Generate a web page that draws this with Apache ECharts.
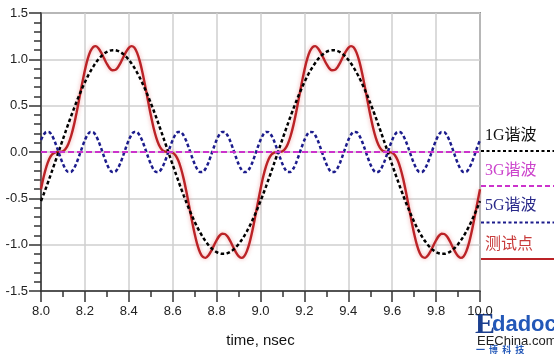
<!DOCTYPE html>
<html>
<head>
<meta charset="utf-8">
<script src="https://cdn.jsdelivr.net/npm/echarts@6/dist/echarts.min.js"></script>
<style>
html,body{margin:0;padding:0;background:#fff;}
#chart{width:554px;height:354px;}
</style>
</head>
<body>
<div id="chart"></div>
<script>
// time axis samples (ns)
var time = [
 8.0000,8.0125,8.0250,8.0375,8.0500,8.0625,8.0750,8.0875,8.1000,8.1125,8.1250,8.1375,8.1500,8.1625,8.1750,8.1875,
 8.2000,8.2125,8.2250,8.2375,8.2500,8.2625,8.2750,8.2875,8.3000,8.3125,8.3250,8.3375,8.3500,8.3625,8.3750,8.3875,
 8.4000,8.4125,8.4250,8.4375,8.4500,8.4625,8.4750,8.4875,8.5000,8.5125,8.5250,8.5375,8.5500,8.5625,8.5750,8.5875,
 8.6000,8.6125,8.6250,8.6375,8.6500,8.6625,8.6750,8.6875,8.7000,8.7125,8.7250,8.7375,8.7500,8.7625,8.7750,8.7875,
 8.8000,8.8125,8.8250,8.8375,8.8500,8.8625,8.8750,8.8875,8.9000,8.9125,8.9250,8.9375,8.9500,8.9625,8.9750,8.9875,
 9.0000,9.0125,9.0250,9.0375,9.0500,9.0625,9.0750,9.0875,9.1000,9.1125,9.1250,9.1375,9.1500,9.1625,9.1750,9.1875,
 9.2000,9.2125,9.2250,9.2375,9.2500,9.2625,9.2750,9.2875,9.3000,9.3125,9.3250,9.3375,9.3500,9.3625,9.3750,9.3875,
 9.4000,9.4125,9.4250,9.4375,9.4500,9.4625,9.4750,9.4875,9.5000,9.5125,9.5250,9.5375,9.5500,9.5625,9.5750,9.5875,
 9.6000,9.6125,9.6250,9.6375,9.6500,9.6625,9.6750,9.6875,9.7000,9.7125,9.7250,9.7375,9.7500,9.7625,9.7750,9.7875,
 9.8000,9.8125,9.8250,9.8375,9.8500,9.8625,9.8750,9.8875,9.9000,9.9125,9.9250,9.9375,9.9500,9.9625,9.9750,9.9875,
 10.0000];
// 1G harmonic (black dashed)
var wave1G = [
 -0.530,-0.453,-0.373,-0.290,-0.206,-0.121,-0.035,0.052,0.138,0.223,0.307,0.389,0.468,0.545,0.618,0.688,
 0.753,0.814,0.869,0.919,0.964,1.003,1.035,1.061,1.081,1.093,1.099,1.099,1.091,1.077,1.056,1.029,
 0.995,0.955,0.910,0.858,0.802,0.740,0.674,0.604,0.530,0.453,0.373,0.290,0.206,0.121,0.035,-0.052,
 -0.138,-0.223,-0.307,-0.389,-0.468,-0.545,-0.618,-0.688,-0.753,-0.814,-0.869,-0.919,-0.964,-1.003,-1.035,-1.061,
 -1.081,-1.093,-1.099,-1.099,-1.091,-1.077,-1.056,-1.029,-0.995,-0.955,-0.910,-0.858,-0.802,-0.740,-0.674,-0.604,
 -0.530,-0.453,-0.373,-0.290,-0.206,-0.121,-0.035,0.052,0.138,0.223,0.307,0.389,0.468,0.545,0.618,0.688,
 0.753,0.814,0.869,0.919,0.964,1.003,1.035,1.061,1.081,1.093,1.099,1.099,1.091,1.077,1.056,1.029,
 0.995,0.955,0.910,0.858,0.802,0.740,0.674,0.604,0.530,0.453,0.373,0.290,0.206,0.121,0.035,-0.052,
 -0.138,-0.223,-0.307,-0.389,-0.468,-0.545,-0.618,-0.688,-0.753,-0.814,-0.869,-0.919,-0.964,-1.003,-1.035,-1.061,
 -1.081,-1.093,-1.099,-1.099,-1.091,-1.077,-1.056,-1.029,-0.995,-0.955,-0.910,-0.858,-0.802,-0.740,-0.674,-0.604,
 -0.530];
// 3G harmonic (magenta dashed, flat at zero)
var wave3G = [
 0,0,0,0,0,0,0,0,0,0,0,0,0,0,0,0, 0,0,0,0,0,0,0,0,0,0,0,0,0,0,0,0,
 0,0,0,0,0,0,0,0,0,0,0,0,0,0,0,0, 0,0,0,0,0,0,0,0,0,0,0,0,0,0,0,0,
 0,0,0,0,0,0,0,0,0,0,0,0,0,0,0,0, 0,0,0,0,0,0,0,0,0,0,0,0,0,0,0,0,
 0,0,0,0,0,0,0,0,0,0,0,0,0,0,0,0, 0,0,0,0,0,0,0,0,0,0,0,0,0,0,0,0,
 0,0,0,0,0,0,0,0,0,0,0,0,0,0,0,0, 0,0,0,0,0,0,0,0,0,0,0,0,0,0,0,0,
 0];
// 5G harmonic (blue dashed)
var wave5G = [
 0.129,0.188,0.217,0.214,0.178,0.115,0.034,-0.051,-0.129,-0.188,-0.217,-0.214,-0.178,-0.115,-0.034,0.051,
 0.129,0.188,0.217,0.214,0.178,0.115,0.034,-0.051,-0.129,-0.188,-0.217,-0.214,-0.178,-0.115,-0.034,0.051,
 0.129,0.188,0.217,0.214,0.178,0.115,0.034,-0.051,-0.129,-0.188,-0.217,-0.214,-0.178,-0.115,-0.034,0.051,
 0.129,0.188,0.217,0.214,0.178,0.115,0.034,-0.051,-0.129,-0.188,-0.217,-0.214,-0.178,-0.115,-0.034,0.051,
 0.129,0.188,0.217,0.214,0.178,0.115,0.034,-0.051,-0.129,-0.188,-0.217,-0.214,-0.178,-0.115,-0.034,0.051,
 0.129,0.188,0.217,0.214,0.178,0.115,0.034,-0.051,-0.129,-0.188,-0.217,-0.214,-0.178,-0.115,-0.034,0.051,
 0.129,0.188,0.217,0.214,0.178,0.115,0.034,-0.051,-0.129,-0.188,-0.217,-0.214,-0.178,-0.115,-0.034,0.051,
 0.129,0.188,0.217,0.214,0.178,0.115,0.034,-0.051,-0.129,-0.188,-0.217,-0.214,-0.178,-0.115,-0.034,0.051,
 0.129,0.188,0.217,0.214,0.178,0.115,0.034,-0.051,-0.129,-0.188,-0.217,-0.214,-0.178,-0.115,-0.034,0.051,
 0.129,0.188,0.217,0.214,0.178,0.115,0.034,-0.051,-0.129,-0.188,-0.217,-0.214,-0.178,-0.115,-0.034,0.051,
 0.129];
// test point (red solid)
var testPoint = [
 -0.401,-0.265,-0.156,-0.076,-0.028,-0.006,-0.001,0.001,0.009,0.035,0.090,0.175,0.290,0.430,0.584,0.739,
 0.882,1.002,1.086,1.133,1.142,1.118,1.069,1.010,0.952,0.905,0.882,0.885,0.913,0.962,1.022,1.080,
 1.124,1.143,1.127,1.072,0.980,0.855,0.708,0.553,0.401,0.265,0.156,0.076,0.028,0.006,0.001,-0.001,
 -0.009,-0.035,-0.090,-0.175,-0.290,-0.430,-0.584,-0.739,-0.882,-1.002,-1.086,-1.133,-1.142,-1.118,-1.069,-1.010,
 -0.952,-0.905,-0.882,-0.885,-0.913,-0.962,-1.022,-1.080,-1.124,-1.143,-1.127,-1.072,-0.980,-0.855,-0.708,-0.553,
 -0.401,-0.265,-0.156,-0.076,-0.028,-0.006,-0.001,0.001,0.009,0.035,0.090,0.175,0.290,0.430,0.584,0.739,
 0.882,1.002,1.086,1.133,1.142,1.118,1.069,1.010,0.952,0.905,0.882,0.885,0.913,0.962,1.022,1.080,
 1.124,1.143,1.127,1.072,0.980,0.855,0.708,0.553,0.401,0.265,0.156,0.076,0.028,0.006,0.001,-0.001,
 -0.009,-0.035,-0.090,-0.175,-0.290,-0.430,-0.584,-0.739,-0.882,-1.002,-1.086,-1.133,-1.142,-1.118,-1.069,-1.010,
 -0.952,-0.905,-0.882,-0.885,-0.913,-0.962,-1.022,-1.080,-1.124,-1.143,-1.127,-1.072,-0.980,-0.855,-0.708,-0.553,
 -0.401];
var legendNames = ['1G谐波','3G谐波','5G谐波','测试点'];
var xTicks = {min: 8.0, max: 10.0, interval: 0.2};
var yTicks = {min: -1.5, max: 1.5, interval: 0.5};

function pairs(ys){ return time.map(function(t,i){ return [t, ys[i]]; }); }

var chart = echarts.init(document.getElementById('chart'), null, {renderer:'canvas'});
var axisFont = 'Liberation Sans, Arial, sans-serif';
var legFont = '"Liberation Serif","Noto Sans CJK SC",serif';
chart.setOption({
  backgroundColor:'#fff',
  animation:false,
  grid:{left:41, right:74, top:13, bottom:63, show:true, borderColor:'#444', borderWidth:1.5, backgroundColor:'transparent'},
  xAxis:{
    type:'value', min:xTicks.min, max:xTicks.max, interval:xTicks.interval,
    name:'time, nsec', nameLocation:'middle', nameGap:42,
    nameTextStyle:{fontSize:15, color:'#111', fontFamily:axisFont},
    axisLine:{onZero:false, lineStyle:{color:'#333', width:1.5}},
    axisTick:{length:11, lineStyle:{color:'#333', width:1.5}},
    minorTick:{show:true, splitNumber:2, length:6, lineStyle:{color:'#333', width:1.5}},
    axisLabel:{formatter:function(v){return v.toFixed(1);}, fontSize:13, color:'#222', margin:14, fontFamily:axisFont},
    splitLine:{show:true, lineStyle:{color:'#cfcfcf', width:1.5}}
  },
  yAxis:{
    type:'value', min:yTicks.min, max:yTicks.max, interval:yTicks.interval,
    axisLine:{show:true, onZero:false, lineStyle:{color:'#333', width:1.5}},
    axisTick:{show:true, length:12, lineStyle:{color:'#333', width:1.5}},
    minorTick:{show:true, splitNumber:5, length:7, lineStyle:{color:'#333', width:1.5}},
    axisLabel:{formatter:function(v){return v.toFixed(1);}, fontSize:13, color:'#222', margin:13, fontFamily:axisFont},
    splitLine:{show:true, lineStyle:{color:'#cfcfcf', width:1.5}}
  },
  series:[
    {name:legendNames[3], type:'line', data:pairs(testPoint), symbol:'none', smooth:0.3, z:2,
     lineStyle:{color:'#bb2226', width:2.4, shadowColor:'rgba(235,140,140,0.75)', shadowBlur:4}},
    {name:legendNames[0], type:'line', data:pairs(wave1G), symbol:'none', smooth:0.3, z:3,
     lineStyle:{color:'#000', width:2.5, type:[3.5,2.5]}},
    {name:legendNames[2], type:'line', data:pairs(wave5G), symbol:'none', smooth:0.3, z:4,
     lineStyle:{color:'#1c1c8c', width:2.5, type:[3.5,2.5]}},
    {name:legendNames[1], type:'line', data:pairs(wave3G), symbol:'none', smooth:false, z:5,
     lineStyle:{color:'#cc33cc', width:2, type:[6,3]}}
  ],
  graphic:[
    {type:'text', left:485, top:128, style:{text:legendNames[0], fill:'#111', font:'16px '+legFont}},
    {type:'line', shape:{x1:481,y1:151,x2:554,y2:151}, style:{stroke:'#000', lineWidth:2, lineDash:[3,2.5]}},
    {type:'text', left:485, top:163, style:{text:legendNames[1], fill:'#cc44cc', font:'16px '+legFont}},
    {type:'line', shape:{x1:481,y1:186,x2:554,y2:186}, style:{stroke:'#cc33cc', lineWidth:2, lineDash:[5,3]}},
    {type:'text', left:485, top:198, style:{text:legendNames[2], fill:'#2a2a8a', font:'16px '+legFont}},
    {type:'line', shape:{x1:481,y1:222.5,x2:554,y2:222.5}, style:{stroke:'#1c1c8c', lineWidth:2, lineDash:[3,2.5]}},
    {type:'text', left:485, top:237, style:{text:legendNames[3], fill:'#c83c3c', font:'16px '+legFont}},
    {type:'line', shape:{x1:481,y1:259,x2:554,y2:259}, style:{stroke:'#bb2226', lineWidth:2.2}},
    {type:'text', left:475, top:310, style:{text:'E', fill:'#1b3f8f', font:'bold 30px "Liberation Serif",serif'}},
    {type:'text', left:492, top:314, style:{text:'dadoc', fill:'#2358b8', font:'bold 22px "Liberation Sans",Arial,sans-serif'}},
    {type:'text', left:477, top:335, style:{text:'EEChina.com', fill:'#222', font:'13px "Liberation Sans",Arial,sans-serif'}},
    {type:'text', left:476, top:345, style:{text:'一  博  科  技', fill:'#2358b8', font:'bold 9px "Noto Sans CJK SC",sans-serif'}}
  ]
});
</script>
</body>
</html>
